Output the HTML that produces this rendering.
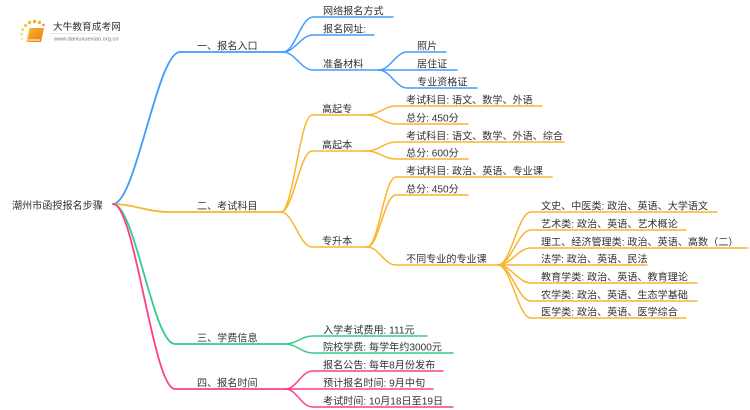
<!DOCTYPE html>
<html>
<head>
<meta charset="utf-8">
<style>
html,body{margin:0;padding:0;background:#fff;}
body{width:750px;height:410px;overflow:hidden;}
svg{display:block;}
text{font-family:"Liberation Sans","Noto Sans CJK SC",sans-serif;font-size:10.1px;fill:#333;}
</style>
</head>
<body>
<svg width="750" height="410" viewBox="0 0 750 410" xmlns="http://www.w3.org/2000/svg">
<defs>
<linearGradient id="lg" x1="0" y1="0" x2="1" y2="0">
<stop offset="0" stop-color="#ddd"/><stop offset="1" stop-color="#fff"/>
</linearGradient>
<linearGradient id="bk" x1="0" y1="0" x2="1" y2="1">
<stop offset="0" stop-color="#f9b233"/><stop offset="1" stop-color="#ec7c12"/>
</linearGradient>
</defs>

<!-- Logo -->
<g>
<circle cx="21.5" cy="34" r="1.2" fill="#f9d46a"/>
<circle cx="22.5" cy="29.5" r="1.4" fill="#f9cc55"/>
<circle cx="25.5" cy="25.5" r="1.6" fill="#f8c445"/>
<circle cx="29.5" cy="22.5" r="1.7" fill="#f7bb38"/>
<circle cx="34.5" cy="21.5" r="1.7" fill="#f6b030"/>
<circle cx="39.5" cy="22.5" r="1.6" fill="#f5a82a"/>
<circle cx="43.5" cy="25" r="1.4" fill="#f4a025"/>
<circle cx="22" cy="39" r="1" fill="#fadb80"/>
<path d="M30 28 L44 28 L41 42 L27 42 Z" fill="url(#bk)"/>
<path d="M28.5 40 L40 40" stroke="#fff" stroke-width="1"/>
<path d="M30 28 L27 42" stroke="#f7c25a" stroke-width="1.5"/>
<text x="53" y="30" style="font-size:9.7px;fill:#333;">大牛教育成考网</text>
<rect x="50" y="33" width="84" height="0.8" fill="url(#lg)"/>
<text x="54" y="40.5" style="font-size:5.7px;fill:#777;">www.daniuxuexiao.org.cn</text>
</g>

<!-- Root -->
<text x="12" y="209">潮州市函授报名步骤</text>

<g fill="none" stroke-linecap="round">
<!-- Level 1 -->
<path d="M113 204 C136 204 157 52 180 52 H283" stroke="#3e9bff" stroke-width="1.8"/>
<path d="M113 204 C133 204 148 212 168 212 H281" stroke="#f9b52c" stroke-width="1.8"/>
<path d="M113 204 C135 204 153 344 175 344 H285" stroke="#2fcf87" stroke-width="1.8"/>
<path d="M113 204 C135 204 153 389 175 389 H285" stroke="#ff3d8b" stroke-width="1.8"/>

<!-- A children -->
<g stroke="#3e9bff" stroke-width="1.5">
<path d="M283 52 C295 52 301 17 313 17 H393"/>
<path d="M283 52 C295 52 301 35 313 35 H374"/>
<path d="M283 52 C295 52 301 70 313 70 H379"/>
<path d="M379 70 C390 70 396 52 407 52 H446"/>
<path d="M379 70 H457"/>
<path d="M379 70 C390 70 396 88 407 88 H477"/>
</g>

<!-- B children -->
<g stroke="#f9b52c" stroke-width="1.5">
<path d="M281 212 C293 212 300 115 312 115 H367"/>
<path d="M281 212 C293 212 300 151 312 151 H367"/>
<path d="M281 212 C293 212 300 247 312 247 H367"/>
<path d="M367 115 C379 115 384 106 396 106 H542"/>
<path d="M367 115 C379 115 384 124 396 124 H468"/>
<path d="M367 151 C379 151 384 142 396 142 H564"/>
<path d="M367 151 C379 151 384 159 396 159 H468"/>
<path d="M367 247 C379 247 384 177 396 177 H552"/>
<path d="M367 247 C379 247 384 195 396 195 H468"/>
<path d="M367 247 C379 247 384 265 396 265 H498"/>
<path d="M498 265 C511 265 518 212 531 212 H717"/>
<path d="M498 265 C511 265 518 230 531 230 H686"/>
<path d="M498 265 C511 265 518 248 531 248 H748"/>
<path d="M498 265 H647"/>
<path d="M498 265 C511 265 518 283 531 283 H697"/>
<path d="M498 265 C511 265 518 301 531 301 H697"/>
<path d="M498 265 C511 265 518 318 531 318 H686"/>
</g>

<!-- C children -->
<g stroke="#2fcf87" stroke-width="1.5">
<path d="M285 344 C297 344 301 336 313 336 H427"/>
<path d="M285 344 C297 344 301 353 313 353 H453"/>
</g>

<!-- D children -->
<g stroke="#ff3d8b" stroke-width="1.5">
<path d="M285 389 C297 389 301 371 313 371 H443"/>
<path d="M285 389 H433"/>
<path d="M285 389 C297 389 301 407 313 407 H453"/>
</g>
</g>

<!-- Level 1 labels -->
<text x="197" y="49.5">一、报名入口</text>
<text x="197" y="209.5">二、考试科目</text>
<text x="197" y="341.5">三、学费信息</text>
<text x="197" y="386.5">四、报名时间</text>

<!-- A labels -->
<text x="323" y="14.5">网络报名方式</text>
<text x="323" y="32.5">报名网址:</text>
<text x="323" y="67.5">准备材料</text>
<text x="417" y="49.5">照片</text>
<text x="417" y="67.5">居住证</text>
<text x="417" y="85.5">专业资格证</text>

<!-- B labels -->
<text x="322" y="112.5">高起专</text>
<text x="322" y="148.5">高起本</text>
<text x="322" y="244.5">专升本</text>
<text x="406" y="103.5">考试科目: 语文、数学、外语</text>
<text x="406" y="121.5">总分: 450分</text>
<text x="406" y="139.5">考试科目: 语文、数学、外语、综合</text>
<text x="406" y="156.5">总分: 600分</text>
<text x="406" y="174.5">考试科目: 政治、英语、专业课</text>
<text x="406" y="192.5">总分: 450分</text>
<text x="406" y="262.5">不同专业的专业课</text>
<text x="541" y="209.5">文史、中医类: 政治、英语、大学语文</text>
<text x="541" y="227.5">艺术类: 政治、英语、艺术概论</text>
<text x="541" y="245.5">理工、经济管理类: 政治、英语、高数（二）</text>
<text x="541" y="262.5">法学: 政治、英语、民法</text>
<text x="541" y="280.5">教育学类: 政治、英语、教育理论</text>
<text x="541" y="298.5">农学类: 政治、英语、生态学基础</text>
<text x="541" y="315.5">医学类: 政治、英语、医学综合</text>

<!-- C labels -->
<text x="323" y="333.5">入学考试费用: 111元</text>
<text x="323" y="350.5">院校学费: 每学年约3000元</text>

<!-- D labels -->
<text x="323" y="368.5">报名公告: 每年8月份发布</text>
<text x="323" y="386.5">预计报名时间: 9月中旬</text>
<text x="323" y="404.5">考试时间: 10月18日至19日</text>
</svg>
</body>
</html>
